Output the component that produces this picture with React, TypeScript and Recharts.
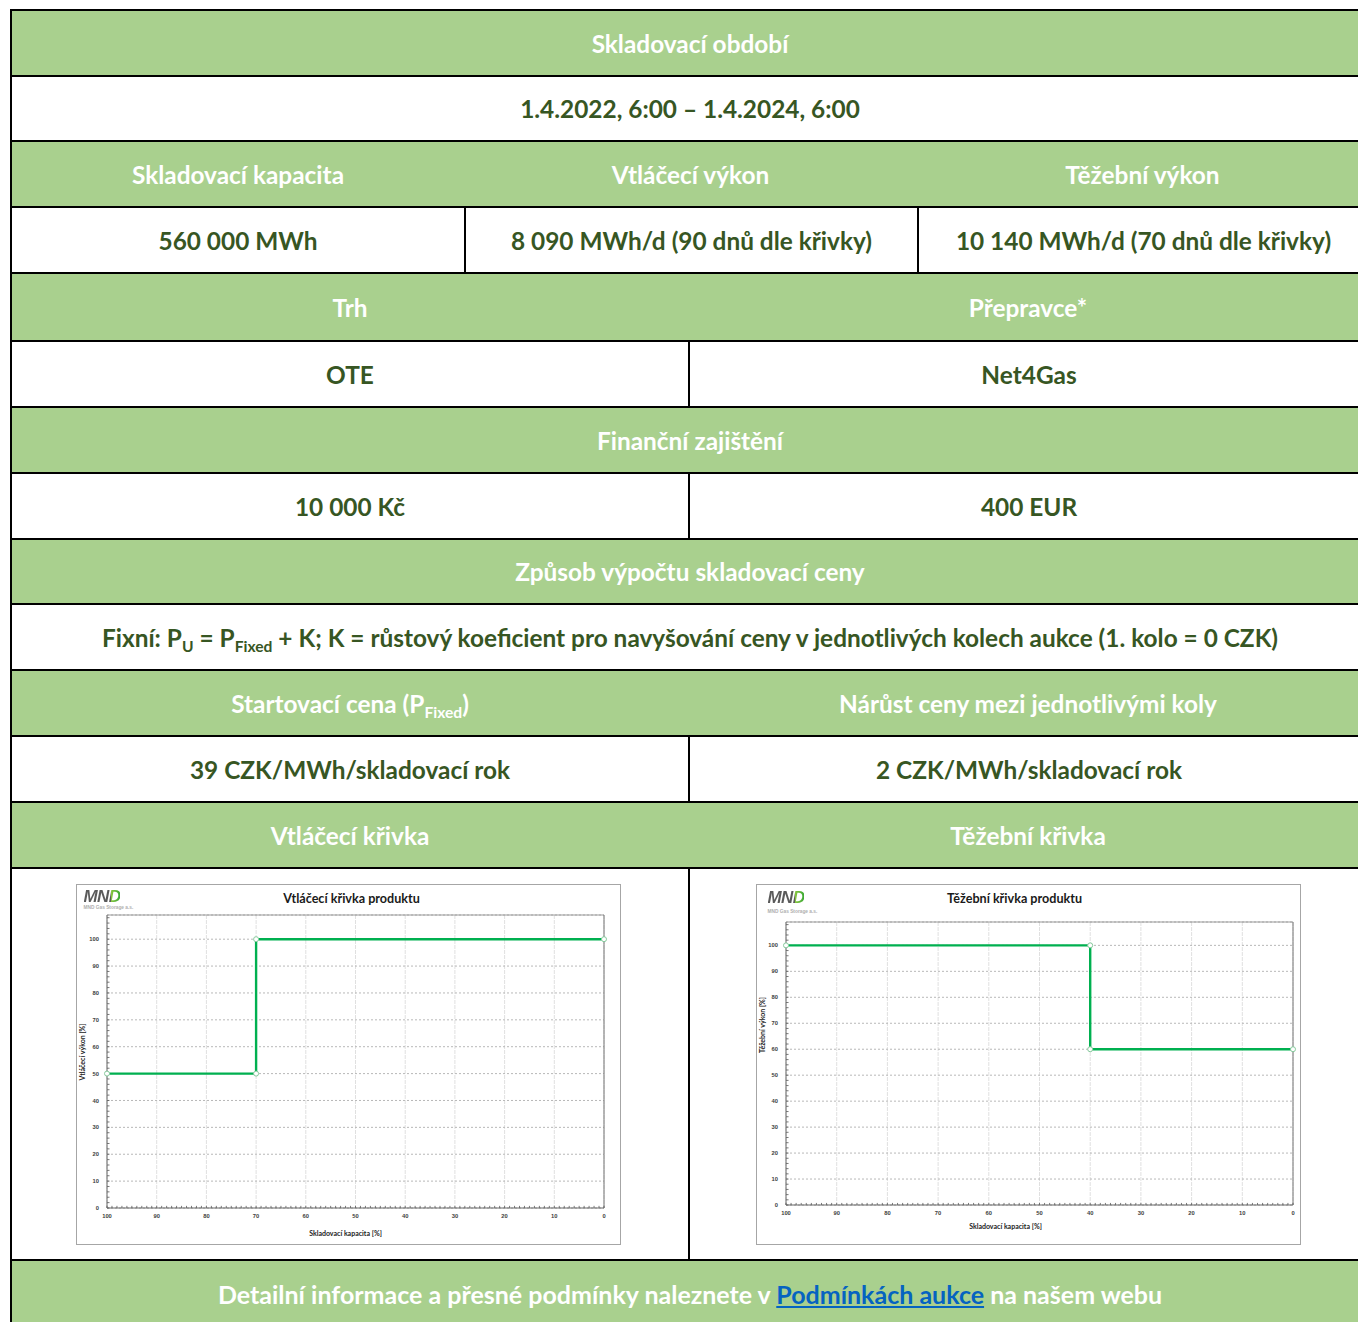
import React from 'react';
import { LineChart, Line, XAxis, YAxis, CartesianGrid, ReferenceLine } from 'recharts';

// ---------- data ----------
const xTicks = [0, 10, 20, 30, 40, 50, 60, 70, 80, 90, 100];
const yTicks = [0, 10, 20, 30, 40, 50, 60, 70, 80, 90, 100];
const yMax = 109;

// Vtláčecí křivka: storage capacity [%] -> injection rate [%]
const injectionCapacity = [100, 70, 70, 0];
const injectionRate = [50, 50, 100, 100];

// Těžební křivka: storage capacity [%] -> withdrawal rate [%]
const withdrawalCapacity = [100, 40, 40, 0];
const withdrawalRate = [100, 100, 60, 60];

const xMinorTicks = Array.from({ length: 101 }, (_, i) => i);
const yMinorTicks = Array.from({ length: 55 }, (_, i) => i * 2);

// ---------- styles ----------
const FONT = "Lato, 'Open Sans', 'Noto Sans', sans-serif";
const GREEN_BG = '#A9D08E';
const DARK = '#375623';
const LINE = '#00B050';
const TICK_FONT = "'Liberation Sans', Arial, sans-serif";

const TABLE_LEFT = 10;
const TABLE_TOP = 10;
const TABLE_W = 1358;
const rowTops = [10, 76, 141, 207, 273, 341, 407, 473, 539, 604, 670, 736, 802, 868, 1260, 1330];

type ChartProps = {
  capacity: number[];
  rate: number[];
  title: string;
  titleX: number;
  yLabel: string;
  yLabelPos: [number, number];
  xLabelPos: [number, number];
  plot: { left: number; right: number; top: number; bottom: number };
  logo: { x: number; y: number; sub: number };
  shift?: number;
};

function CurveChart(p: ChartProps) {
  const data = p.capacity.map((x, i) => ({ x, y: p.rate[i] }));
  const W = 543;
  const H = 359;
  const minorStroke = '#555';
  return (
    <div
      style={{
        position: 'relative',
        left: p.shift || 0,
        width: 545,
        height: 361,
        boxSizing: 'border-box',
        border: '1px solid #a6a6a6',
        background: '#fff',
      }}
    >
      <div style={{ position: 'absolute', left: 0, top: 0 }}>
        <LineChart
          width={W}
          height={H}
          data={data}
          margin={{ top: p.plot.top, right: p.plot.right, left: 0, bottom: 0 }}
        >
          <CartesianGrid horizontal={false} vertical stroke="#e0e0e0" strokeDasharray="4 1" />
          <CartesianGrid horizontal vertical={false} stroke="#b8b8b8" strokeDasharray="2 2" />
          <XAxis
            type="number"
            dataKey="x"
            domain={[0, 100]}
            ticks={xTicks}
            reversed
            height={H - p.plot.bottom}
            tickLine={false}
            tickSize={4}
            axisLine={{ stroke: '#666', strokeWidth: 1 }}
            tick={{ fontSize: 5.8, fill: '#404040', fontFamily: TICK_FONT }}
            interval={0}
          />
          <YAxis
            type="number"
            domain={[0, yMax]}
            ticks={yTicks}
            width={p.plot.left}
            tickLine={false}
            axisLine={{ stroke: '#666', strokeWidth: 1 }}
            tick={{ fontSize: 5.8, fill: '#404040', fontFamily: TICK_FONT }}
            interval={0}
            allowDataOverflow
          />
          <ReferenceLine y={yMax} stroke="#999" strokeWidth={1} />
          <ReferenceLine x={0} stroke="#777" strokeWidth={1} />
          {xMinorTicks.map((t) => (
            <ReferenceLine
              key={'xm' + t}
              segment={[
                { x: t, y: 0 },
                { x: t, y: 0.8 },
              ]}
              stroke={minorStroke}
              strokeWidth={0.8}
            />
          ))}
          {yMinorTicks.map((t) => (
            <ReferenceLine
              key={'ym' + t}
              segment={[
                { x: 100, y: t },
                { x: 99.5, y: t },
              ]}
              stroke={minorStroke}
              strokeWidth={0.8}
            />
          ))}
          <Line
            type="linear"
            dataKey="y"
            stroke={LINE}
            strokeWidth={2.4}
            dot={{ r: 2.5, fill: '#fff', stroke: '#86c99c', strokeWidth: 1 }}
            activeDot={false}
            isAnimationActive={false}
          />
        </LineChart>
      </div>
      {/* logo */}
      <div
        style={{
          position: 'absolute',
          left: p.logo.x,
          top: p.logo.y,
          fontFamily: "'Liberation Sans', Arial, sans-serif",
          fontWeight: 700,
          fontStyle: 'italic',
          fontSize: 17,
          lineHeight: '14px',
          letterSpacing: -0.6,
          background: 'linear-gradient(90deg, #5a5a5a 0%, #5a5a5a 74%, #8cc63f 74%, #3aa935 100%)',
          WebkitBackgroundClip: 'text',
          backgroundClip: 'text',
          color: 'transparent',
        }}
      >
        MND
      </div>
      <div
        style={{
          position: 'absolute',
          left: p.logo.x,
          top: p.logo.sub,
          fontFamily: "'Liberation Sans', Arial, sans-serif",
          fontSize: 4.8,
          lineHeight: '5px',
          color: '#b0b0b0',
          whiteSpace: 'nowrap',
        }}
      >
        MND Gas Storage a.s.
      </div>
      {/* title */}
      <div
        style={{
          position: 'absolute',
          left: p.titleX,
          top: 13,
          transform: 'translate(-50%, -50%)',
          fontFamily: FONT,
          fontWeight: 700,
          fontSize: 12.6,
          color: '#1a1a1a',
          whiteSpace: 'nowrap',
        }}
      >
        {p.title}
      </div>
      {/* y label */}
      <div
        style={{
          position: 'absolute',
          left: p.yLabelPos[0],
          top: p.yLabelPos[1],
          transform: 'translate(-50%, -50%) rotate(-90deg)',
          fontFamily: FONT,
          fontWeight: 700,
          fontSize: 7,
          color: '#222',
          whiteSpace: 'nowrap',
        }}
      >
        {p.yLabel}
      </div>
      {/* x label */}
      <div
        style={{
          position: 'absolute',
          left: p.xLabelPos[0],
          top: p.xLabelPos[1],
          transform: 'translate(-50%, -50%)',
          fontFamily: FONT,
          fontWeight: 700,
          fontSize: 7,
          color: '#222',
          whiteSpace: 'nowrap',
        }}
      >
        Skladovací kapacita [%]
      </div>
    </div>
  );
}

const Sub = ({ children }: { children: React.ReactNode }) => (
  <span style={{ fontSize: '0.64em', verticalAlign: '-0.32em', lineHeight: 0 }}>{children}</span>
);

type RowProps = {
  index: number;
  header?: boolean;
  widths: number[];
  dividers?: boolean;
  cells: React.ReactNode[];
};

function Row({ index, header, widths, dividers, cells }: RowProps) {
  const top = rowTops[index] - TABLE_TOP;
  const height = rowTops[index + 1] - rowTops[index];
  return (
    <div
      style={{
        position: 'absolute',
        left: 0,
        top,
        width: TABLE_W - 2,
        height,
        boxSizing: 'border-box',
        borderTop: '2px solid #000',
        background: header ? GREEN_BG : '#fff',
        display: 'flex',
      }}
    >
      {cells.map((c, i) => (
        <div
          key={i}
          style={{
            width: widths[i],
            flex: 'none',
            boxSizing: 'border-box',
            borderLeft: dividers && i > 0 ? '2px solid #000' : 'none',
            display: 'flex',
            alignItems: 'center',
            justifyContent: 'center',
            color: header ? '#fff' : DARK,
            fontFamily: FONT,
            fontWeight: 700,
            fontSize: 24.4,
            whiteSpace: 'nowrap',
          }}
        >
          {c}
        </div>
      ))}
    </div>
  );
}

const W1 = [TABLE_W - 2];
const W3 = [452, 453, 451];
const W2 = [676, 680];

export default function App() {
  return (
    <div style={{ position: 'relative', width: 1358, height: 1322, overflow: 'hidden' }}>
      <style>{'html,body{margin:0;padding:0;overflow:hidden;background:#fff}'}</style>
      <div
        style={{
          position: 'absolute',
          left: TABLE_LEFT,
          top: TABLE_TOP - 1,
          width: TABLE_W,
          height: 1330,
          boxSizing: 'border-box',
          borderLeft: '2px solid #000',
        }}
      >
        <Row index={0} header widths={W1} cells={['Skladovací období']} />
        <Row index={1} widths={W1} cells={['1.4.2022, 6:00 – 1.4.2024, 6:00']} />
        <Row index={2} header widths={W3} cells={['Skladovací kapacita', 'Vtláčecí výkon', 'Těžební výkon']} />
        <Row
          index={3}
          widths={W3}
          dividers
          cells={['560 000 MWh', '8 090 MWh/d (90 dnů dle křivky)', '10 140 MWh/d (70 dnů dle křivky)']}
        />
        <Row index={4} header widths={W2} cells={['Trh', 'Přepravce*']} />
        <Row index={5} widths={W2} dividers cells={['OTE', 'Net4Gas']} />
        <Row index={6} header widths={W1} cells={['Finanční zajištění']} />
        <Row index={7} widths={W2} dividers cells={['10 000 Kč', '400 EUR']} />
        <Row index={8} header widths={W1} cells={['Způsob výpočtu skladovací ceny']} />
        <Row
          index={9}
          widths={W1}
          cells={[
            <span>
              Fixní: P<Sub>U</Sub> = P<Sub>Fixed</Sub> + K; K = růstový koeficient pro navyšování ceny v jednotlivých
              kolech aukce (1. kolo = 0 CZK)
            </span>,
          ]}
        />
        <Row
          index={10}
          header
          widths={W2}
          cells={[
            <span>
              Startovací cena (P<Sub>Fixed</Sub>)
            </span>,
            'Nárůst ceny mezi jednotlivými koly',
          ]}
        />
        <Row index={11} widths={W2} dividers cells={['39 CZK/MWh/skladovací rok', '2 CZK/MWh/skladovací rok']} />
        <Row index={12} header widths={W2} cells={['Vtláčecí křivka', 'Těžební křivka']} />
        <Row
          index={13}
          widths={W2}
          dividers
          cells={[
            <CurveChart
              capacity={injectionCapacity}
              rate={injectionRate}
              title="Vtláčecí křivka produktu"
              titleX={275}
              yLabel="Vtláčecí výkon [%]"
              yLabelPos={[5.5, 167]}
              xLabelPos={[269, 348]}
              plot={{ left: 30, right: 16, top: 30, bottom: 323 }}
              logo={{ x: 7, y: 5, sub: 20 }}
              shift={-2}
            />,
            <CurveChart
              capacity={withdrawalCapacity}
              rate={withdrawalRate}
              title="Těžební křivka produktu"
              titleX={258}
              yLabel="Těžební výkon [%]"
              yLabelPos={[5, 140]}
              xLabelPos={[249, 341]}
              plot={{ left: 29, right: 7, top: 37, bottom: 320 }}
              logo={{ x: 11, y: 6, sub: 24 }}
              shift={-1}
            />,
          ]}
        />
        <Row
          index={14}
          header
          widths={W1}
          cells={[
            <span style={{ position: 'relative', top: -1, fontSize: 25 }}>
              Detailní informace a přesné podmínky naleznete v{' '}
              <a href="#" style={{ color: '#0563C1', textDecoration: 'underline' }}>
                Podmínkách aukce
              </a>{' '}
              na našem webu
            </span>,
          ]}
        />
      </div>
    </div>
  );
}
